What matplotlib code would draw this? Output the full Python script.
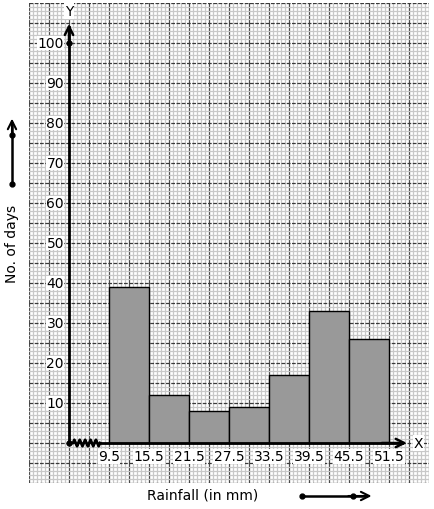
import numpy as np
import matplotlib
matplotlib.use("Agg")
import matplotlib.pyplot as plt

# class boundaries (rainfall in mm) and frequencies (no. of days)
edges = [9.5, 15.5, 21.5, 27.5, 33.5, 39.5, 45.5, 51.5]
days = [39, 12, 8, 9, 17, 33, 26]
y_ticks = [10, 20, 30, 40, 50, 60, 70, 80, 90, 100]
x_labels = ["9.5", "15.5", "21.5", "27.5", "33.5", "39.5", "45.5", "51.5"]

ox = 3.5  # where the (broken) x axis meets the y axis

fig = plt.figure(figsize=(4.34, 5.10), dpi=100)
ax = fig.add_axes([29 / 434, 26 / 510, 400 / 434, 480 / 510])
ax.set_xlim(-2.5, 57.5)
ax.set_ylim(-10, 110)

# graph paper
ax.set_xticks(np.arange(-2.5, 57.6, 3))
ax.set_yticks(np.arange(-10, 110.1, 5))
ax.set_xticks(np.arange(-2.5, 57.6, 0.6), minor=True)
ax.set_yticks(np.arange(-10, 110.1, 1), minor=True)
ax.grid(which="minor", color="#c8c8c8", lw=0.9)
ax.grid(which="major", axis="x", color="#4a4a4a", lw=0.9)
ax.grid(which="major", axis="y", color="#3a3a3a", lw=0.9, ls=(0, (3, 1.2)))
ax.set_axisbelow(True)
ax.tick_params(which="both", length=0, labelbottom=False, labelleft=False)
for s in ax.spines.values():
    s.set_visible(False)

# histogram
ax.bar(edges[:-1], days, width=np.diff(edges), align="edge",
       color="#999999", edgecolor="black", lw=1, zorder=3)

arrow = dict(arrowstyle="->,head_length=0.6,head_width=0.3", lw=1.8, color="black")

# axes with arrows
ax.plot([ox, ox], [0, 104], color="black", lw=2, zorder=4)
ax.annotate("", xy=(ox, 105.5), xytext=(ox, 100), zorder=4, arrowprops=arrow)
ax.text(ox, 108, "Y", ha="center", va="center", fontsize=10,
        bbox=dict(fc="white", ec="none", pad=0.5), zorder=5)
ax.plot([ox], [100], "ko", ms=3.5, zorder=6)
ax.plot([ox], [0], "ko", ms=3.5, zorder=6)

ax.plot([8.15, 53.5], [0, 0], color="black", lw=2, zorder=4)
ax.annotate("", xy=(54.6, 0), xytext=(50, 0), zorder=4, arrowprops=arrow)
ax.text(55.9, 0, "X", ha="center", va="center", fontsize=10,
        bbox=dict(fc="white", ec="none", pad=0.5), zorder=5)

# broken axis zigzag near origin
zx = np.linspace(4.1, 8.15, 21)
zy = np.tile([0, 0.8, 0, -0.8], 6)[:21]
ax.plot(np.r_[ox, zx], np.r_[0, zy], color="black", lw=2, zorder=4)

# tick labels
for v in y_ticks:
    ax.text(2.75, v, str(v), ha="right", va="center", fontsize=10,
            bbox=dict(fc="white", ec="none", pad=0.3), zorder=5)
for e, lab in zip(edges, x_labels):
    ax.text(e, -3.3, lab, ha="center", va="center", fontsize=10,
            bbox=dict(fc="white", ec="none", pad=0.3), zorder=5)

# axis titles with arrows
ax.text(-5.05, 50, "No. of days", rotation=90, ha="center", va="center",
        fontsize=10, clip_on=False)
ax.plot([-5.05, -5.05], [64.75, 80], color="black", lw=1.8, clip_on=False)
ax.annotate("", xy=(-5.05, 81.8), xytext=(-5.05, 76), annotation_clip=False,
            arrowprops=dict(arrow, lw=1.5))
ax.plot([-5.05, -5.05], [64.75, 77], "ko", ms=3.5, clip_on=False, zorder=6)

ax.text(23.5, -12.8, "Rainfall (in mm)", ha="center", va="center",
        fontsize=10, clip_on=False)
ax.plot([38.45, 48], [-13.25, -13.25], color="black", lw=1.8, clip_on=False)
ax.annotate("", xy=(49.3, -13.25), xytext=(45, -13.25), annotation_clip=False,
            arrowprops=dict(arrow, lw=1.5))
ax.plot([38.45, 46.1], [-13.25, -13.25], "ko", ms=3.5, clip_on=False, zorder=6)

fig.savefig("out.png", dpi=100)
